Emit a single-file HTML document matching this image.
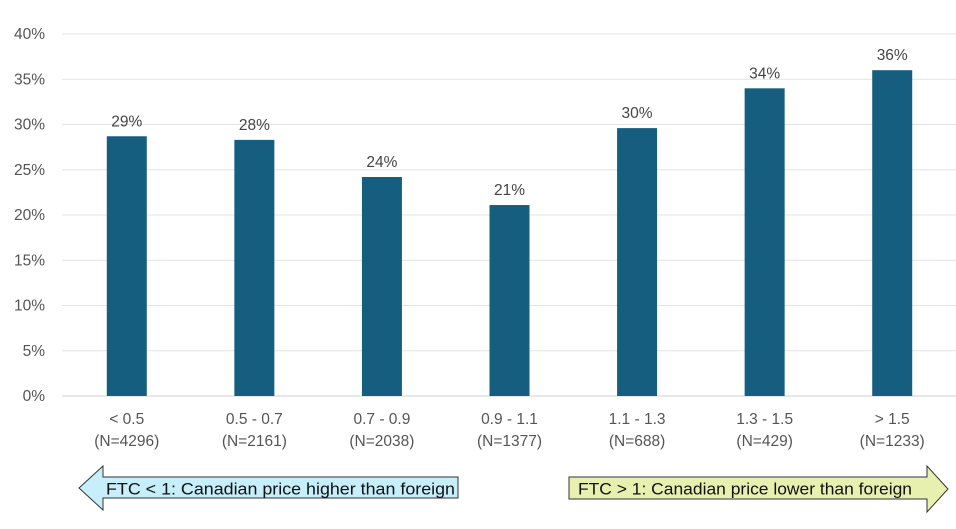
<!DOCTYPE html>
<html><head><meta charset="utf-8"><style>
body{margin:0;background:#fff;width:956px;height:524px;overflow:hidden;font-family:"Liberation Sans",sans-serif}
</style></head><body>
<svg id="chart" width="956" height="524" xmlns="http://www.w3.org/2000/svg" font-family="Liberation Sans, sans-serif">
<g id="grid"></g>
<g id="yticks"></g>
<g id="bars"></g>
<g id="xlabels"></g>
<g>
<polygon points="79,488 103,466 103,477 458,477 458,498 103,498 103,510" fill="#c6eefb" stroke="#333" stroke-width="1"/>
<text x="106" y="494.5" font-size="17" textLength="349" lengthAdjust="spacingAndGlyphs" fill="#111">FTC &lt; 1: Canadian price higher than foreign</text>
</g>
<g>
<polygon points="569,477 927,477 927,466 948,489 927,512 927,499 569,499" fill="#e8f0b0" stroke="#333" stroke-width="1"/>
<text x="578" y="494.5" font-size="17" textLength="334" lengthAdjust="spacingAndGlyphs" fill="#111">FTC &gt; 1: Canadian price lower than foreign</text>
</g>
</svg>
<script>
const categories=["< 0.5","0.5 - 0.7","0.7 - 0.9","0.9 - 1.1","1.1 - 1.3","1.3 - 1.5","> 1.5"];
const counts=["(N=4296)","(N=2161)","(N=2038)","(N=1377)","(N=688)","(N=429)","(N=1233)"];
const values=[28.7,28.3,24.2,21.1,29.6,34.0,36.0];
const valueLabels=["29%","28%","24%","21%","30%","34%","36%"];
const yTicks=[0,5,10,15,20,25,30,35,40];
const NS="http://www.w3.org/2000/svg";
const x0=63,x1=956,y0=396,yTop=34,maxV=40;
const band=(x1-x0)/categories.length;
function xc(i){return x0+band*(i+0.5);}
function y(v){return y0-(v/maxV)*(y0-yTop);}
function mk(t,a,p){const e=document.createElementNS(NS,t);for(const k in a)e.setAttribute(k,a[k]);p.appendChild(e);return e;}
const g=document.getElementById('grid'),yt=document.getElementById('yticks'),b=document.getElementById('bars'),xl=document.getElementById('xlabels');
yTicks.forEach(v=>{
 const l=mk('line',{x1:x0-1,x2:x1,y1:y(v),y2:y(v),stroke:v===0?'#d0d0d0':'#e3e3e3','stroke-width':1},g);
 
 
 const t=mk('text',{x:45,y:y(v)+5,'text-anchor':'end','font-size':15.5,fill:'#555'},yt);
 t.textContent=v+'%';
 
 
});
values.forEach((v,i)=>{
 const r=mk('rect',{x:xc(i)-20,y:y(v),width:40,height:y0-y(v),fill:'#165e80'},b);
 
 
 const t=mk('text',{x:xc(i),y:y(v)-10,'text-anchor':'middle','font-size':15.5,fill:'#444'},b);
 t.textContent=valueLabels[i];
 
 
 const c=mk('text',{x:xc(i),y:424,'text-anchor':'middle','font-size':15.5,fill:'#555'},xl);
 c.textContent=categories[i];
 
 
 const n=mk('text',{x:xc(i),y:446,'text-anchor':'middle','font-size':15.5,fill:'#555'},xl);
 n.textContent=counts[i];
 
 
});
</script>
</body></html>
